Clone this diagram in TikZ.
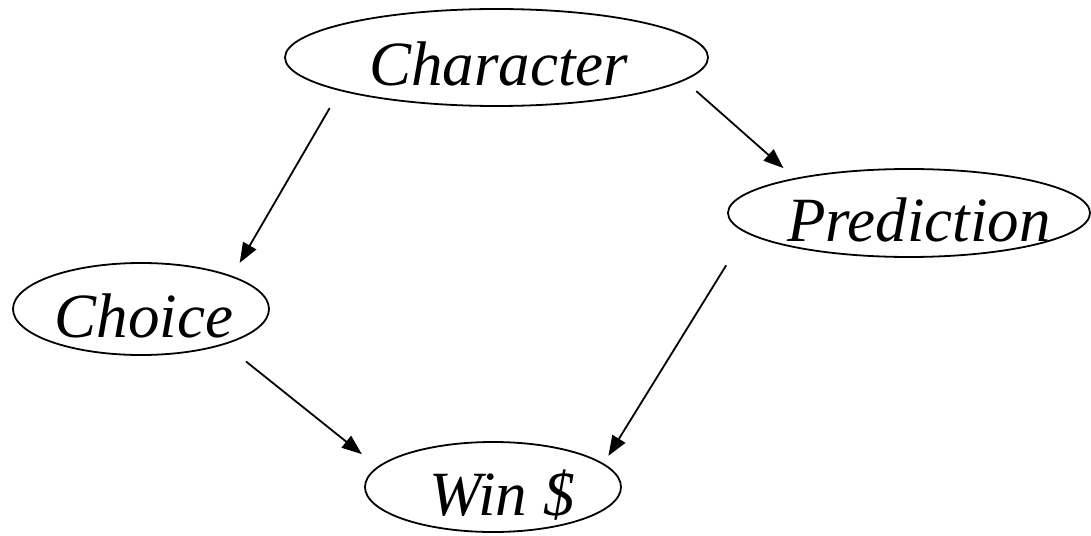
\documentclass[tikz,border=0pt]{standalone}
\usepackage{fontspec}
\setmainfont{Liberation Serif}
\usetikzlibrary{shapes.geometric,arrows.meta,positioning}

\begin{document}
\begin{tikzpicture}[x=0.5pt, y=-0.5pt, line width=0.9pt, >={Triangle[length=10pt,width=7.5pt]},
	oval/.style={ellipse, draw, inner sep=0pt, font=\fontsize{31.5}{36}\selectfont\itshape, text height=28pt, text depth=0pt}]
				\useasboundingbox (0,0) rectangle (1091,535);
				\node [oval, minimum width=211.5pt, minimum height=48.5pt] (character) at (496.5,57.5) {\makebox[0pt]{\hspace*{2pt}Character}};
				\node [oval, minimum width=181pt, minimum height=44pt] (prediction) at (909,213) {\makebox[0pt]{\hspace*{10pt}Prediction}};
				\node [oval, minimum width=128pt, minimum height=46pt] (choice) at (141,309) {\makebox[0pt]{\hspace*{3pt}Choice}};
				\node [oval, minimum width=128pt, minimum height=45pt] (win) at (493,487) {\makebox[0pt]{\hspace*{9pt}Win \$}};
				
				% Arrows
				\path [->, shorten <=10pt, shorten >=7.5pt] (character.192) edge (choice.20);
				\path [->, shorten <=8pt, shorten >=7.5pt] (character.353) edge (prediction.163);
				\path [->, shorten <=13.5pt, shorten >=10pt] (choice.337) edge (win.170);
				\path [->, shorten <=19pt, shorten >=4.5pt] (prediction.187) edge (win.12);
			\end{tikzpicture}
\end{document}
